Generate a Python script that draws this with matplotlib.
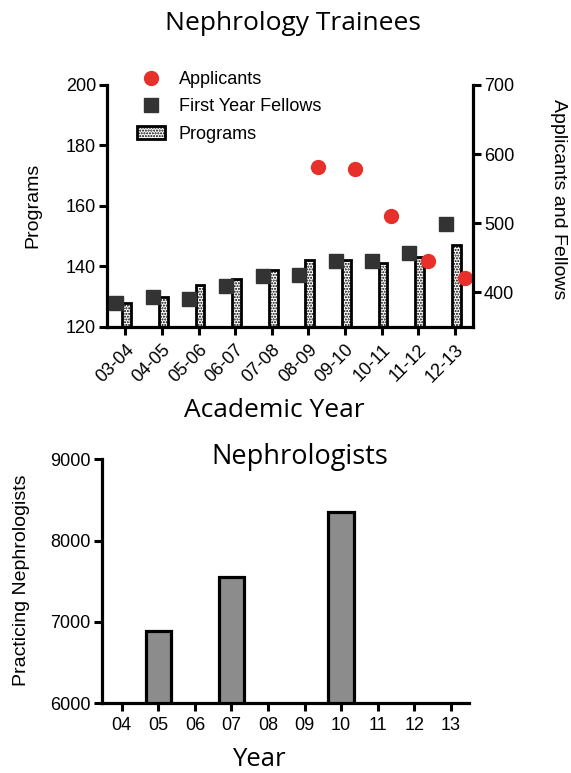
import matplotlib
matplotlib.use("Agg")
import matplotlib.pyplot as plt
import numpy as np
from matplotlib.lines import Line2D
from matplotlib.patches import Patch

# Nephrology trainees (academic years)
ACAD_YEARS = ["03-04", "04-05", "05-06", "06-07", "07-08",
              "08-09", "09-10", "10-11", "11-12", "12-13"]
PROGRAMS = [128, 130, 134, 136, 139, 142, 142, 141, 143, 147]
FELLOWS = [384, 393, 391, 410, 424, 425, 446, 446, 457, 499]
APPLICANT_YEARS = ["08-09", "09-10", "10-11", "11-12", "12-13"]
APPLICANTS = [581, 579, 511, 446, 421]

# Practicing nephrologists
YEARS = ["04", "05", "06", "07", "08", "09", "10", "11", "12", "13"]
NEPH_YEARS = ["05", "07", "10"]
NEPHROLOGISTS = [6893, 7549, 8356]

RED = "#e8302a"
DARK = "#333333"
TICK_FONT = "Liberation Sans"
TITLE_FONT = "Open Sans"

W, H = 571, 773
plt.rcParams["font.family"] = TICK_FONT
plt.rcParams["hatch.linewidth"] = 1.0


def fx(x):
    return x / W


def fy(y):
    return 1 - y / H


def style_axis(ax, spines):
    for name, sp in ax.spines.items():
        sp.set_visible(name in spines)
        sp.set_linewidth(2.3)
    ax.tick_params(width=2.2, length=6, labelsize=13, pad=2)


fig = plt.figure(figsize=(W / 100, H / 100), dpi=100)

# ── Top panel: trainees ────────────────────────────────────────────────
ax = fig.add_axes([fx(107), fy(327), fx(473) - fx(107), fy(85) - fy(327)])
x = np.arange(len(ACAD_YEARS))
ax.bar(x + 0.04, PROGRAMS, 0.24, color="white", edgecolor="black",
       linewidth=2, hatch="......", zorder=2)
ax.set_xlim(-0.5, 9.5)
ax.set_ylim(120, 200)
ax.set_yticks([120, 140, 160, 180, 200])
ax.set_xticks(x)
ax.set_xticklabels(ACAD_YEARS, rotation=45, ha="right", rotation_mode="anchor")
style_axis(ax, ["left", "bottom"])
ax.tick_params(axis="x", pad=4)

ax2 = ax.twinx()
ax2.plot(x - 0.25, FELLOWS, "s", color=DARK, markersize=10, clip_on=False)
ax_idx = [ACAD_YEARS.index(y) for y in APPLICANT_YEARS]
ax2.plot(np.array(ax_idx) + 0.27, APPLICANTS, "o", color=RED,
         markersize=10, clip_on=False)
ax2.set_ylim(350, 700)
ax2.set_yticks([400, 500, 600, 700])
style_axis(ax2, ["right"])

handles = [
    Line2D([], [], marker="o", color=RED, linestyle="none", markersize=10),
    Line2D([], [], marker="s", color=DARK, linestyle="none", markersize=10),
    Patch(facecolor="white", edgecolor="black", linewidth=2, hatch="......"),
]
fig.legend(handles, ["Applicants", "First Year Fellows", "Programs"],
           loc="upper left", bbox_to_anchor=(fx(137), fy(71)),
           frameon=False, fontsize=13, borderpad=0, borderaxespad=0,
           handlelength=1.55, handleheight=0.8, handletextpad=0.75,
           labelspacing=0.56)

fig.text(fx(293), fy(30), "Nephrology Trainees", family=TITLE_FONT,
         fontsize=19, ha="center", va="baseline")
fig.text(fx(274), fy(417), "Academic Year", family=TITLE_FONT,
         fontsize=19, ha="center", va="baseline")
fig.text(fx(33), fy(205), "Programs", fontsize=14, rotation=90,
         ha="center", va="center")
fig.text(fx(559), fy(199), "Applicants and Fellows", fontsize=14,
         rotation=-90, ha="center", va="center")

# ── Bottom panel: nephrologists ────────────────────────────────────────
bx = fig.add_axes([fx(101.7), fy(703.3), fx(469) - fx(101.7), fy(459.3) - fy(703.3)])
pos = [YEARS.index(y) for y in NEPH_YEARS]
bx.bar(pos, NEPHROLOGISTS, 0.7, bottom=0, color="#8c8c8c",
       edgecolor="black", linewidth=2.3, zorder=2)
bx.set_xlim(-0.55, 9.5)
bx.set_ylim(6000, 9000)
bx.set_yticks([6000, 7000, 8000, 9000])
bx.set_xticks(np.arange(len(YEARS)))
bx.set_xticklabels(YEARS)
style_axis(bx, ["left", "bottom"])
bx.tick_params(axis="x", pad=4)

fig.text(fx(300), fy(464), "Nephrologists", family=TITLE_FONT,
         fontsize=19.5, ha="center", va="baseline")
fig.text(fx(259), fy(766), "Year", family=TITLE_FONT,
         fontsize=18.5, ha="center", va="baseline")
fig.text(fx(22), fy(580), "Practicing Nephrologists", fontsize=14,
         rotation=90, ha="center", va="center")

fig.savefig("out.png", dpi=100)
